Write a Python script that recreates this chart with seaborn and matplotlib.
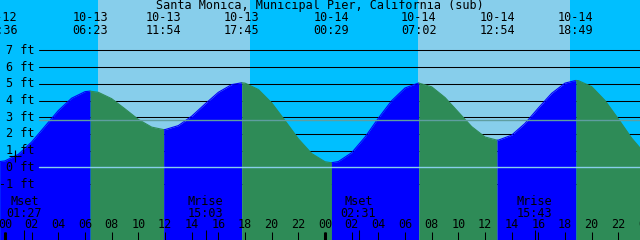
import matplotlib
matplotlib.use('Agg')
import matplotlib.pyplot as plt
import pandas as pd
import seaborn as sns

# Tide curve, hours counted from 10-13 00:00
hours = list(range(0, 49))
heights = [0.39, 0.78, 1.52, 2.46, 3.40, 4.14, 4.53, 4.49, 4.11, 3.50,
           2.87, 2.41, 2.26, 2.50, 3.06, 3.79, 4.49, 4.95, 5.04, 4.66,
           3.86, 2.80, 1.71, 0.83, 0.34, 0.35, 0.88, 1.81, 2.94, 3.99,
           4.75, 5.04, 4.82, 4.18, 3.31, 2.44, 1.82, 1.63, 1.93, 2.63,
           3.55, 4.43, 5.04, 5.19, 4.83, 4.00, 2.90, 1.75, 0.81]

# High / low tide events
tide_times = [-0.4, 6.383, 11.9, 17.75, 24.483, 31.033, 36.9, 42.817]
tide_heights = [0.35, 4.56, 2.26, 5.06, 0.28, 5.04, 1.63, 5.20]
tide_dates = ['10-12', '10-13', '10-13', '10-13', '10-14', '10-14', '10-14', '10-14']
tide_clock = ['23:36', '06:23', '11:54', '17:45', '00:29', '07:02', '12:54', '18:49']

# Moon events
moon_times = [1.45, 15.05, 26.517, 39.717]
moon_names = ['Mset', 'Mrise', 'Mset', 'Mrise']
moon_clock = ['01:27', '15:03', '02:31', '15:43']

# Daylight
sunrise = [6.95, 30.95]
sunset = [18.38, 42.37]

depth_ticks = [-1, 0, 1, 2, 3, 4, 5, 6, 7]
hour_ticks = list(range(0, 50, 2))
msl = 2.82
now_hour, now_ft = 0.78, 0.66

title = 'Santa Monica, Municipal Pier, California (sub)'

# build segments between tide events (flood = rising, ebb = falling)
pts = pd.DataFrame({'hour': hours + tide_times, 'ft': heights + tide_heights})
pts = pts.sort_values('hour').reset_index(drop=True)
bounds = tide_times + [49]
parts = []
for i in range(len(bounds) - 1):
    sub = pts[(pts.hour >= bounds[i]) & (pts.hour <= bounds[i + 1])].copy()
    rising = i + 1 < len(tide_heights) and tide_heights[i + 1] > tide_heights[i]
    sub['phase'] = 'flood' if rising else 'ebb'
    sub['seg'] = i
    parts.append(sub)
df = pd.concat(parts, ignore_index=True)

sns.set_theme(style='white')
plt.rcParams['font.family'] = ['DejaVu Sans Mono']
plt.rcParams['font.size'] = 8.5
plt.rcParams['text.color'] = 'black'

fig = plt.figure(figsize=(6.4, 2.4), dpi=100)
ax = fig.add_axes([0, 0, 1, 1])
ax.set_xlim(-0.375, 47.625)
ax.set_ylim(-4.34, 10.01)
ax.axis('off')

# night / day sky
ax.axvspan(-1, 49, color='#00BFFF', lw=0, zorder=0)
for r, s in zip(sunrise, sunset):
    ax.axvspan(r, s, color='#87CEEB', lw=0, zorder=0)

# depth grid lines (behind the water)
x0 = 39 / 640
for d in depth_ticks:
    if d != 0:
        ax.axhline(d, xmin=x0, xmax=1, color='black', lw=0.75, zorder=1)
    ax.text(35 / 640, d, f'{d} ft', transform=ax.get_yaxis_transform(),
            ha='right', va='center', color='black', zorder=10)

colors = {'flood': '#0000FF', 'ebb': '#2E8B57'}
for seg, sub in df.groupby('seg'):
    ax.fill_between(sub.hour, sub.ft, -5, color=colors[sub.phase.iloc[0]],
                    lw=0, zorder=2)
sns.lineplot(data=df, x='hour', y='ft', hue='phase', units='seg',
             estimator=None, palette=colors, legend=False, lw=0.8,
             ax=ax, zorder=3)

# datum and mean sea level lines on top
ax.axhline(0, xmin=x0, xmax=1, color='#87CEEB', lw=1.0, zorder=4)
ax.axhline(msl, xmin=x0, xmax=1, color='#5F9EA0', lw=1.0, zorder=4)

ax.plot(now_hour, now_ft, marker='+', ms=9, mew=0.8, color='black', zorder=11)

xt = ax.get_xaxis_transform()
ax.text(0.5, 0.975, title, transform=ax.transAxes, ha='center', va='center',
        zorder=10)
for t, d, c in zip(tide_times, tide_dates, tide_clock):
    ax.text(t, 0.927, d, transform=xt, ha='center', va='center', zorder=10)
    ax.text(t, 0.875, c, transform=xt, ha='center', va='center', zorder=10)

for t, n, c in zip(moon_times, moon_names, moon_clock):
    ax.text(t, 0.16, n, transform=xt, ha='center', va='center', zorder=10)
    ax.text(t, 0.112, c, transform=xt, ha='center', va='center', zorder=10)

for h in hour_ticks:
    ax.text(h, 0.0625, f'{h % 24:02d}', transform=xt, ha='center',
            va='center', zorder=10)
ax.vlines(hour_ticks, 0, 8 / 240, transform=xt, color='black', lw=0.75, zorder=6)
ax.vlines([0, 24, 48], 0, 8 / 240, transform=xt, color='black', lw=2.2, zorder=6)
ax.vlines(moon_times, 0, 10 / 240, transform=xt, color='black', lw=0.75, zorder=6)

fig.savefig('out.png', dpi=100)
